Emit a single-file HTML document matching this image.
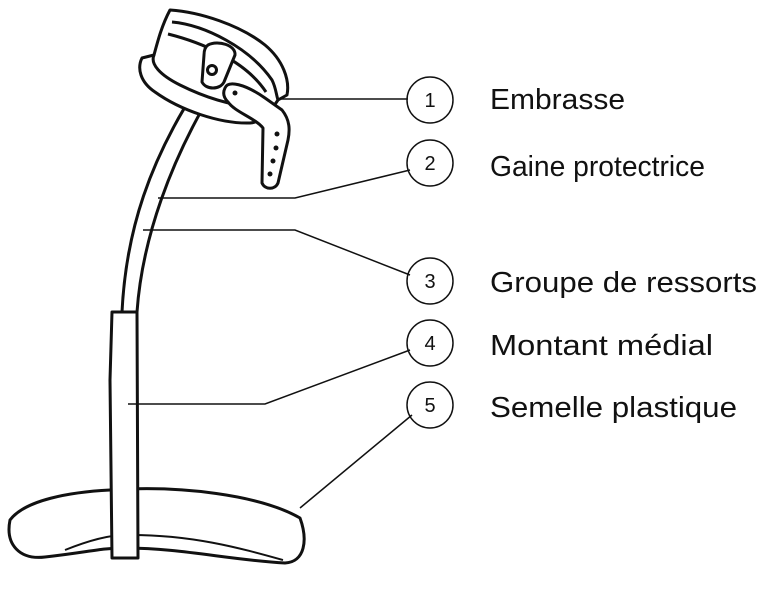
<!DOCTYPE html>
<html><head><style>
body{margin:0;background:#fff;}
svg{display:block}
text{font-family:"Liberation Sans","DejaVu Sans",sans-serif;fill:#111}
</style></head><body>
<svg width="763" height="600" viewBox="0 0 763 600">
<g fill="none" stroke="#111" stroke-width="3" stroke-linejoin="round">
<!-- sole -->
<path d="M10,520 C5,545 20,560 45,557 C90,552 100,548 125,548 C180,548 230,560 285,563 C305,562 308,540 300,518 C260,495 180,485 110,490 C70,492 25,500 10,520 Z" fill="#fff"/>
<path d="M65,550 C90,540 110,535 125,535 C190,534 240,548 283,560" stroke-width="2"/>
<!-- lower upright -->
<path d="M112,312 L137,312 L138,558 L112,558 L110,380 Z" fill="#fff"/>
<!-- upper bar -->
<path d="M122,312 C126,230 150,160 198,86 L217,84 C170,160 142,240 137,312 Z" fill="#fff"/>
<!-- cuff -->
<path d="M170,10 C200,12 240,25 265,45 C283,60 290,80 287,95 L278,100 C270,112 262,122 250,123 C220,124 180,110 155,92 C140,82 137,68 142,58 L154,55 C158,40 162,25 170,10 Z" fill="#fff"/>
<path d="M172,22 C205,25 250,48 272,80 C276,88 276,94 278,100"/>
<path d="M168,34 C200,42 245,60 266,92"/>
<path d="M154,55 C150,64 160,75 180,85 C210,100 240,108 270,108"/>
<!-- buckle -->
<path d="M208,45 C218,40 236,45 235,55 L224,82 C220,90 206,90 202,82 L204,55 C204,50 205,47 208,45 Z" fill="#fff"/>
<circle cx="212" cy="70" r="4.5"/>
<!-- strap -->
<path d="M225,88 C228,80 245,84 265,98 L282,110 C290,120 290,130 288,140 L278,183 C275,190 265,190 262,183 L263,128 C255,118 235,112 228,102 C223,97 223,92 225,88 Z" fill="#fff"/>
</g>
<g fill="#111">
<circle cx="235" cy="93" r="2.5"/><circle cx="277" cy="134" r="2.5"/><circle cx="276" cy="148" r="2.5"/><circle cx="273" cy="161" r="2.5"/><circle cx="270" cy="174" r="2.5"/>
</g>
<!-- leaders -->
<g fill="none" stroke="#111" stroke-width="1.5">
<path d="M280,99 L408,99"/>
<path d="M158,198 L295,198 L410,170"/>
<path d="M143,230 L295,230 L410,275"/>
<path d="M128,404 L265,404 L410,350"/>
<path d="M300,508 L412,415"/>
<circle cx="430" cy="100" r="23"/>
<circle cx="430" cy="163" r="23"/>
<circle cx="430" cy="281" r="23"/>
<circle cx="430" cy="343" r="23"/>
<circle cx="430" cy="405" r="23"/>
</g>
<g font-size="20" text-anchor="middle">
<text x="430" y="107">1</text><text x="430" y="170">2</text><text x="430" y="288">3</text><text x="430" y="350">4</text><text x="430" y="412">5</text>
</g>
<g font-size="29">
<text x="490" y="109" textLength="135" lengthAdjust="spacingAndGlyphs">Embrasse</text>
<text x="490" y="176" textLength="215" lengthAdjust="spacingAndGlyphs">Gaine protectrice</text>
<text x="490" y="292" textLength="267" lengthAdjust="spacingAndGlyphs">Groupe de ressorts</text>
<text x="490" y="355" textLength="223" lengthAdjust="spacingAndGlyphs">Montant médial</text>
<text x="490" y="417" textLength="247" lengthAdjust="spacingAndGlyphs">Semelle plastique</text>
</g>
</svg>
</body></html>
